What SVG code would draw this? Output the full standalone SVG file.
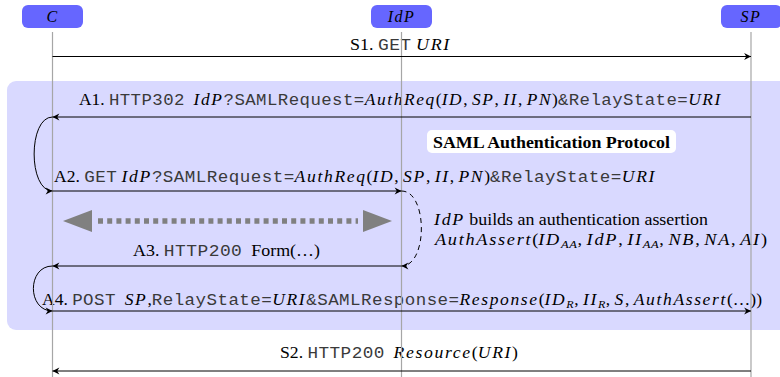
<svg xmlns="http://www.w3.org/2000/svg" width="780" height="377" viewBox="0 0 780 377">
<style>
.t{font-family:"Liberation Serif",serif;font-size:16px;fill:#000}
.m{font-family:"Liberation Mono",monospace;font-size:16px;letter-spacing:0.4px;fill:#3a3a3a}
.i{font-style:italic;letter-spacing:1.5px}
.b{font-weight:bold}
.s{font-size:11px;letter-spacing:0.5px}
.node{fill:#6666ff}
.life{stroke:#a6a6a6;stroke-width:1.2;fill:none}
.msg{stroke:#000;stroke-width:1;fill:none;marker-end:url(#ah)}
</style>
<defs>
<marker id="ah" markerUnits="userSpaceOnUse" markerWidth="10" markerHeight="10" viewBox="-6 -4 8 8" refX="0" refY="0" orient="auto">
<path d="M0,0 L-5.5,-2.8 L-3.8,0 L-5.5,2.8 Z" fill="#000"/>
</marker>
</defs>
<rect id="region" x="7" y="81" width="790" height="249" rx="9" fill="#d9d9ff"/>
<g id="title">
<rect x="427" y="130" width="249" height="23" rx="5" fill="#fff"/>
<text class="t b" x="433" y="148" textLength="237" lengthAdjust="spacingAndGlyphs">SAML Authentication Protocol</text>
</g>
<g id="nodes">
<g id="C"><rect class="node" x="22" y="5" width="61" height="23" rx="6"/><text class="t i" x="52.5" y="22" text-anchor="middle">C</text></g>
<g id="IdP"><rect class="node" x="371" y="5" width="61" height="23" rx="6"/><text class="t i" x="401.5" y="22" text-anchor="middle">IdP</text></g>
<g id="SP"><rect class="node" x="721" y="5" width="61" height="23" rx="6"/><text class="t i" x="751" y="22" text-anchor="middle">SP</text></g>
</g>
<g id="labels">
<text class="t" x="350" y="50" textLength="101" lengthAdjust="spacingAndGlyphs">S1. <tspan class="m">GET</tspan> <tspan class="i">URI</tspan></text>
<text class="t" x="79" y="105" textLength="643" lengthAdjust="spacingAndGlyphs">A1. <tspan class="m">HTTP302</tspan>&#160; <tspan class="i">IdP</tspan><tspan class="m">?SAMLRequest=</tspan><tspan class="i">AuthReq</tspan>(<tspan class="i">ID</tspan>, <tspan class="i">SP</tspan>, <tspan class="i">II</tspan>, <tspan class="i">PN</tspan>)<tspan class="m">&amp;RelayState=</tspan><tspan class="i">URI</tspan></text>
<text class="t" x="54" y="182" textLength="602" lengthAdjust="spacingAndGlyphs">A2. <tspan class="m">GET</tspan> <tspan class="i">IdP</tspan><tspan class="m">?SAMLRequest=</tspan><tspan class="i">AuthReq</tspan>(<tspan class="i">ID</tspan>, <tspan class="i">SP</tspan>, <tspan class="i">II</tspan>, <tspan class="i">PN</tspan>)<tspan class="m">&amp;RelayState=</tspan><tspan class="i">URI</tspan></text>
<text class="t" x="434" y="225" textLength="274" lengthAdjust="spacingAndGlyphs"><tspan class="i">IdP</tspan> builds an authentication assertion</text>
<text class="t" x="435" y="245" textLength="332" lengthAdjust="spacingAndGlyphs"><tspan class="i">AuthAssert</tspan>(<tspan class="i">ID</tspan><tspan class="i s" dy="3">AA</tspan><tspan dy="-3">, </tspan><tspan class="i">IdP</tspan>, <tspan class="i">II</tspan><tspan class="i s" dy="3">AA</tspan><tspan dy="-3">, </tspan><tspan class="i">NB</tspan>, <tspan class="i">NA</tspan>, <tspan class="i">AI</tspan>)</text>
<text class="t" x="133" y="256" textLength="187" lengthAdjust="spacingAndGlyphs">A3. <tspan class="m">HTTP200</tspan>&#160; Form(…)</text>
<text class="t" x="42" y="305" textLength="720" lengthAdjust="spacingAndGlyphs">A4. <tspan class="m">POST</tspan>&#160; <tspan class="i">SP</tspan>,<tspan class="m">RelayState=</tspan><tspan class="i">URI</tspan><tspan class="m">&amp;SAMLResponse=</tspan><tspan class="i">Response</tspan>(<tspan class="i">ID</tspan><tspan class="i s" dy="3">R</tspan><tspan dy="-3">, </tspan><tspan class="i">II</tspan><tspan class="i s" dy="3">R</tspan><tspan dy="-3">, </tspan><tspan class="i">S</tspan>, <tspan class="i">AuthAssert</tspan>(…))</text>
<text class="t" x="280" y="358" textLength="238" lengthAdjust="spacingAndGlyphs">S2. <tspan class="m">HTTP200</tspan>&#160; <tspan class="i">Resource</tspan>(<tspan class="i">URI</tspan>)</text>
</g>
<g id="connectors">
<line class="life" x1="52.5" y1="32" x2="52.5" y2="377"/>
<line class="life" x1="401.5" y1="32" x2="401.5" y2="377"/>
<line class="life" x1="751" y1="32" x2="751" y2="377"/>
<line class="msg" x1="52.5" y1="56.5" x2="751" y2="56.5"/>
<line class="msg" x1="751" y1="117" x2="52.5" y2="117"/>
<path class="msg" d="M52.5,117 C28,117 28,191 52.5,191"/>
<line class="msg" x1="52.5" y1="191" x2="401.5" y2="191"/>
<path class="msg" d="M401.5,191 C428,191 428,266 401.5,266" stroke-dasharray="5,4"/>
<line class="msg" x1="401.5" y1="266" x2="52.5" y2="266"/>
<path class="msg" d="M52.5,266 C27,266 27,311 52.5,311"/>
<line class="msg" x1="52.5" y1="311" x2="751" y2="311"/>
<line class="msg" x1="751" y1="371" x2="52.5" y2="371"/>
<g id="double-arrow" fill="#808080">
<line x1="98" y1="221" x2="358" y2="221" stroke="#808080" stroke-width="5.5" stroke-dasharray="5,4.2"/>
<polygon points="63,221 92,210 92,232"/>
<polygon points="392,221 363,210 363,232"/>
</g>
</g>
</svg>
